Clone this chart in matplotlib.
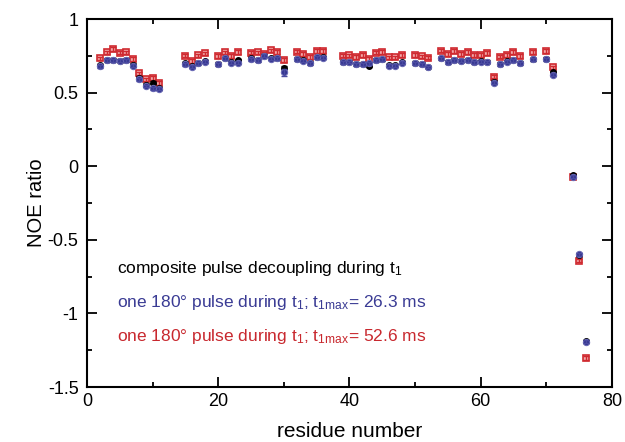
import matplotlib
matplotlib.use("Agg")
import matplotlib.pyplot as plt
from matplotlib.ticker import MultipleLocator

plt.rcParams['font.family'] = ['Liberation Sans', 'DejaVu Sans']
plt.rcParams['mathtext.fontset'] = 'custom'
plt.rcParams['mathtext.rm'] = 'Liberation Sans'
plt.rcParams['mathtext.default'] = 'regular'

# residues with data
residues = [2, 3, 4, 5, 6, 7, 8, 9, 10, 11,
            15, 16, 17, 18,
            20, 21, 22, 23,
            25, 26, 27, 28, 29, 30,
            32, 33, 34, 35, 36,
            39, 40, 41, 42, 43, 44, 45, 46, 47, 48,
            50, 51, 52,
            54, 55, 56, 57, 58, 59, 60, 61, 62, 63, 64, 65, 66,
            68, 70, 71, 74, 75, 76]

# one 180 pulse, t1max = 52.6 ms
noe_red = [0.733, 0.774, 0.798, 0.771, 0.774, 0.730, 0.631, 0.590, 0.601, 0.567,
           0.751, 0.715, 0.753, 0.767,
           0.749, 0.774, 0.749, 0.776,
           0.771, 0.774, 0.764, 0.787, 0.776, 0.721,
           0.778, 0.762, 0.742, 0.781, 0.783,
           0.751, 0.753, 0.742, 0.757, 0.728, 0.771, 0.776, 0.740, 0.740, 0.757,
           0.757, 0.746, 0.737,
           0.785, 0.762, 0.783, 0.761, 0.777, 0.757, 0.757, 0.769, 0.608, 0.744, 0.757, 0.776, 0.749,
           0.776, 0.783, 0.672, -0.075, -0.642, -1.303]

# one 180 pulse, t1max = 26.3 ms
noe_blue = [0.680, 0.720, 0.720, 0.715, 0.720, 0.683, 0.590, 0.545, 0.530, 0.525,
            0.692, 0.676, 0.699, 0.710,
            0.694, 0.733, 0.703, 0.703,
            0.726, 0.721, 0.749, 0.730, 0.733, 0.638,
            0.728, 0.717, 0.699, 0.740, 0.737,
            0.706, 0.708, 0.694, 0.694, 0.699, 0.721, 0.726, 0.683, 0.683, 0.703,
            0.699, 0.692, 0.674,
            0.733, 0.706, 0.721, 0.715, 0.721, 0.706, 0.710, 0.708, 0.567, 0.692, 0.710, 0.721, 0.699,
            0.726, 0.728, 0.620, -0.071, -0.597, -1.192]

# composite pulse decoupling
noe_black = [0.685, 0.722, 0.722, 0.718, 0.722, 0.688, 0.600, 0.555, 0.567, 0.530,
             0.699, 0.680, 0.702, 0.712,
             0.697, 0.735, 0.706, 0.721,
             0.733, 0.724, 0.750, 0.733, 0.735, 0.670,
             0.730, 0.720, 0.702, 0.742, 0.740,
             0.709, 0.710, 0.697, 0.697, 0.683, 0.724, 0.728, 0.686, 0.686, 0.706,
             0.702, 0.695, 0.674,
             0.735, 0.709, 0.724, 0.718, 0.724, 0.709, 0.712, 0.710, 0.575, 0.695, 0.712, 0.724, 0.702,
             0.728, 0.730, 0.638, -0.062, -0.600, -1.190]

err_red = [0.012] * len(residues)
err_blue = [0.01] * len(residues)
err_blue[residues.index(30)] = 0.025
err_black = [0.01] * len(residues)

RED = '#cf2a30'
BLUE = '#33348f'

fig = plt.figure(figsize=(6.25, 4.42), dpi=100)
ax = fig.add_axes([0.139, 0.1244, 0.840, 0.8326])

ax.plot(residues, noe_red, 's', ms=5, mfc='#f2a9aa', mec=RED, mew=1.2, zorder=3)
ax.errorbar(residues, noe_red, yerr=err_red, fmt='none', ecolor=RED,
            elinewidth=1, capsize=2.5, capthick=1, zorder=4)

ax.errorbar(residues, noe_black, yerr=err_black, fmt='o', ms=4, color='black',
            elinewidth=1, capsize=2.5, zorder=5)

ax.plot(residues, noe_blue, 'o', ms=4.5, mfc=BLUE, mec='#6a6ab5', mew=0.8, zorder=6)
ax.errorbar(residues, noe_blue, yerr=err_blue, fmt='none', ecolor='#4a4aa0',
            elinewidth=1, capsize=2.5, capthick=1, zorder=7)

ax.set_xlim(0, 80)
ax.set_ylim(-1.5, 1)
ax.xaxis.set_major_locator(MultipleLocator(20))
ax.xaxis.set_minor_locator(MultipleLocator(10))
ax.yaxis.set_major_locator(MultipleLocator(0.5))
ax.yaxis.set_minor_locator(MultipleLocator(0.25))
ax.set_yticks([1, 0.5, 0, -0.5, -1, -1.5])
ax.set_yticklabels(['1', '0.5', '0', '-0.5', '-1', '-1.5'])

ax.tick_params(which='both', direction='in', top=True, right=True, width=1.3,
               labelsize=13)
ax.tick_params(axis='y', which='both', pad=6)
ax.tick_params(axis='x', which='both', pad=4)
ax.tick_params(which='major', length=7)
ax.tick_params(which='minor', length=3.5)
for s in ax.spines.values():
    s.set_linewidth(1.5)

ax.set_xlabel('residue number', fontsize=15, labelpad=9)
ax.set_ylabel('NOE ratio', fontsize=14.5, labelpad=1)

ax.text(4.6, -0.7255, 'composite pulse decoupling during t$_1$', fontsize=12.5,
        color='black', va='baseline')
ax.text(4.6, -0.957, 'one 180° pulse during t$_1$; t$_{1max}$= 26.3 ms', fontsize=12.5,
        color='#3a3b94', va='baseline')
ax.text(4.6, -1.185, 'one 180° pulse during t$_1$; t$_{1max}$= 52.6 ms', fontsize=12.5,
        color='#c8282e', va='baseline')

fig.savefig('out.png', dpi=100)
